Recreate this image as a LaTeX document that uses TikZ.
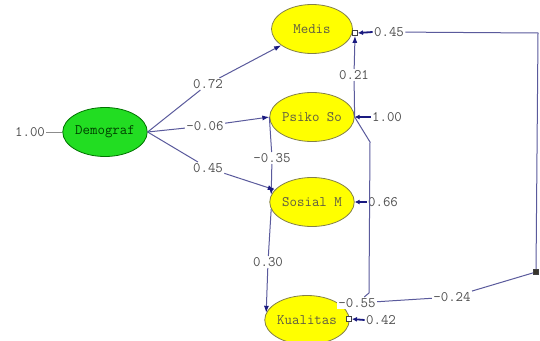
\documentclass[tikz,border=0pt]{standalone}
\usetikzlibrary{arrows.meta,shapes.geometric}
\definecolor{pathblue}{HTML}{5A5A9C}
\definecolor{headblue}{HTML}{1A1A80}
\definecolor{lblgray}{HTML}{505050}
\definecolor{latgreen}{HTML}{22DD22}
\definecolor{latyellow}{HTML}{FFFF00}

\begin{document}
\begin{tikzpicture}[x=1pt,y=-1pt,
  latent/.style={ellipse, line width=0.8pt, minimum width=81pt, minimum height=49pt,
    inner sep=0pt, font=\ttfamily\fontsize{14.5}{16}\selectfont},
  exog/.style={latent, fill=latgreen, draw=black!55!green, text=black!75!green},
  endog/.style={latent, fill=latyellow, draw=yellow!45!black, text=black!72!yellow},
  coef/.style={fill=white, inner sep=1.2pt, text=lblgray,
    font=\ttfamily\fontsize{14.5}{16}\selectfont},
  semarrow/.style={draw=pathblue, line width=1pt,
    -{Latex[length=7pt,width=5pt,color=headblue]}},
  errarrow/.style={draw=headblue, line width=1.8pt,
    -{Latex[length=5pt,width=5pt]}},
  covline/.style={draw=pathblue, line width=1pt},
  errsq/.style={draw=black!75, fill=white, line width=0.8pt, minimum size=5pt,
    inner sep=0pt, rectangle},
  cornersq/.style={errsq, fill=black!80!olive}
]
\useasboundingbox[fill=white] (0,0) rectangle (540,340);

% latent variables
\node[exog]  (dem) at (105,132) {Demograf};
\node[endog] (med) at (312,29)  {Medis};
\node[endog] (psi) at (312,117) {Psiko So};
\node[endog] (sos) at (312,202) {Sosial M};
\node[endog] (kua) at (307,320) {Kualitas};

% error junctions
\node[errsq]    (sqM) at (355,33)  {};
\node[errsq]    (sqK) at (349,319) {};
\node[cornersq] (sqR) at (536,272) {};
\coordinate (topright) at (538,33);
\coordinate (bendA) at (370,142);
\coordinate (bendB) at (369,293);

% coefficients
\node[coef] (l100) at (30,132)  {1.00};
\node[coef] (l072) at (208,84)  {0.72};
\node[coef] (l006) at (205,126) {-0.06};
\node[coef] (l045) at (208,168) {0.45};
\node[coef] (l021) at (354,75)  {0.21};
\node[coef] (l035) at (272,158) {-0.35};
\node[coef] (l030) at (268,262) {0.30};
\node[coef] (e045) at (389,32)  {0.45};
\node[coef] (e100) at (387,117) {1.00};
\node[coef] (e066) at (383,202) {0.66};
\node[coef] (e042) at (381,320) {0.42};
\node[coef] (l055) at (357,303) {-0.55};
\node[coef] (l024) at (452,297) {-0.24};

% structural paths
\draw[draw=black!45, line width=0.8pt] (l100) -- (dem.west);
\draw[semarrow] (dem.east) -- (l072) -- (med);
\draw[semarrow] (dem.east) -- (l006) -- (psi.west);
\draw[semarrow] (dem.east) -- (l045) -- (sos);
\draw[semarrow] (psi.east) -- (l021) -- (sqM.south);
\draw[semarrow] (psi.west) -- (l035) -- (sos.170);
\draw[semarrow] (sos.190) -- (l030) -- (kua.170);
\draw[covline] (psi.east) -- (bendA) -- (bendB) -- (l055);

% error terms
\draw[errarrow] (e045.west) -- (sqM.east);
\draw[errarrow] (e100.west) -- (psi.east);
\draw[errarrow] (e066.west) -- (sos.east);
\draw[errarrow] (e042.west) -- (sqK.east);

% error covariance
\draw[covline] (e045) -- (topright) -- (sqR) -- (l024) -- (l055);
\end{tikzpicture}
\end{document}
